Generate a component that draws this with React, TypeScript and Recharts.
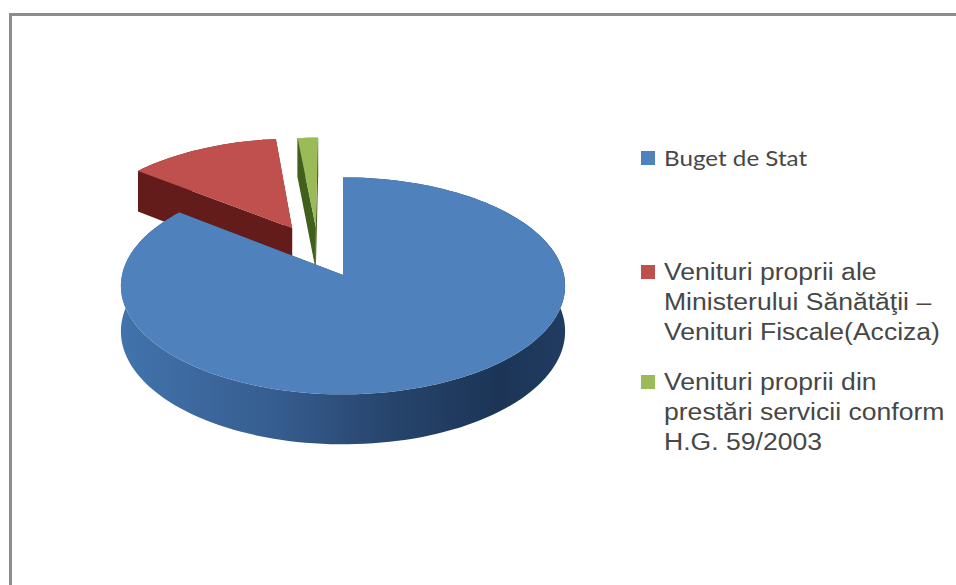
import React from "react";
import { PieChart, Pie, Legend } from "recharts";

const categories = [
  "Buget de Stat",
  "Venituri proprii ale Ministerului Sănătăţii – Venituri Fiscale(Acciza)",
  "Venituri proprii din prestări servicii conform H.G. 59/2003",
];
const shares = [85.6, 12.7, 1.7];
const topColors = ["#4f81bd", "#c0504d", "#9bbb59"];
const sideColors = ["url(#blueSide)", "#631c1a", "#41601b"];
// how far each slice is pulled out of the pie, in radii of the disc
const pullX = [0, -0.241, -0.129];
const pullY = [0, -0.455, -0.466];

// drawn green -> red -> blue so the big slice covers the cut faces behind it
const rows = categories
  .map((name, i) => ({
    name,
    value: shares[i],
    fill: topColors[i],
    side: sideColors[i],
    du: pullX[i],
    dv: pullY[i],
  }))
  .reverse();

const TILT = 0.486;
const PERSPECTIVE = 0.1;
const DEPTH = 45;

function SlicedShape(props: any) {
  const { cx, cy, outerRadius, startAngle, endAngle, fill } = props;
  const row = props.payload?.payload ?? props.payload ?? props;
  const du = row.du ?? 0;
  const dv = row.dv ?? 0;
  const side = row.side ?? fill;

  const project = (u: number, v: number, drop = false) => {
    const w = 1 - PERSPECTIVE * (v + dv);
    const x = cx + (outerRadius * (u + du)) / w;
    const y = cy + (outerRadius * TILT * (v + dv)) / w + (drop ? DEPTH / w : 0);
    return [x, y];
  };
  const path = (pts: number[][]) =>
    "M" + pts.map((p) => p[0].toFixed(1) + "," + p[1].toFixed(1)).join("L") + "Z";

  const arc: number[][] = [];
  const arcLow: number[][] = [];
  const steps = Math.max(2, Math.ceil(Math.abs(endAngle - startAngle) / 2));
  for (let i = 0; i <= steps; i++) {
    const a = ((startAngle + ((endAngle - startAngle) * i) / steps) * Math.PI) / 180;
    arc.push(project(Math.cos(a), -Math.sin(a)));
    arcLow.push(project(Math.cos(a), -Math.sin(a), true));
  }
  const hub = project(0, 0);
  const hubLow = project(0, 0, true);

  return (
    <g>
      <path d={path([hub, arc[0], arcLow[0], hubLow])} fill={side} />
      <path d={path([hub, arc[steps], arcLow[steps], hubLow])} fill={side} />
      <path d={path([...arc, ...[...arcLow].reverse()])} fill={side} />
      <path d={path([hub, ...arc])} fill={fill} />
    </g>
  );
}

function LegendBox({ payload }: any) {
  const items = categories.map((name) => (payload ?? []).find((p: any) => p.value === name)).filter(Boolean);
  const gaps = [0, 84, 20];
  return (
    <div style={{ color: "#474747" }}>
      {items.map((item: any, i: number) => (
        <div key={item.value} style={{ position: "relative", paddingLeft: 23, marginTop: gaps[i] }}>
          <span
            style={{
              position: "absolute",
              left: 0,
              top: 8,
              width: 14,
              height: 14,
              background: item.color,
            }}
          />
          {/* the reference is stretched sideways, so the text is too */}
          <div
            style={{
              fontFamily: i === 0 ? "Lato" : "'Liberation Sans'",
              fontSize: i === 0 ? 22 : 23.5,
              lineHeight: "30px",
              width: 258,
              transform: i === 0 ? "scaleX(1.1)" : "scaleX(1.13)",
              transformOrigin: "left top",
            }}
          >
            {item.value}
          </div>
        </div>
      ))}
    </div>
  );
}

export default function App() {
  return (
    <div style={{ position: "absolute", left: 0, top: 0, width: 956, height: 585, overflow: "hidden", background: "#fff" }}>
      <div
        style={{
          position: "absolute",
          left: 9,
          top: 13,
          width: 960,
          height: 590,
          borderLeft: "3px solid #8c8c8c",
          borderTop: "3px solid #8c8c8c",
        }}
      />
      <PieChart
        width={956}
        height={585}
        margin={{ top: 0, right: 0, bottom: 0, left: 0 }}
        style={{ position: "absolute", left: 0, top: 0 }}
      >
        <defs>
          <linearGradient id="blueSide" x1="0" y1="0" x2="1" y2="0">
            <stop offset="0%" stopColor="#4273ac" />
            <stop offset="35%" stopColor="#365d8f" />
            <stop offset="62%" stopColor="#26436a" />
            <stop offset="85%" stopColor="#1c3557" />
            <stop offset="100%" stopColor="#203c60" />
          </linearGradient>
        </defs>
        <Pie
          data={rows}
          dataKey="value"
          nameKey="name"
          cx={343}
          cy={275}
          outerRadius={221}
          startAngle={90}
          endAngle={450}
          stroke="none"
          shape={SlicedShape}
          isAnimationActive={false}
        />
        <Legend
          content={LegendBox}
          itemSorter={null}
          wrapperStyle={{ position: "absolute", left: 641, top: 143, width: 315, bottom: "auto", right: "auto" }}
        />
      </PieChart>
    </div>
  );
}
